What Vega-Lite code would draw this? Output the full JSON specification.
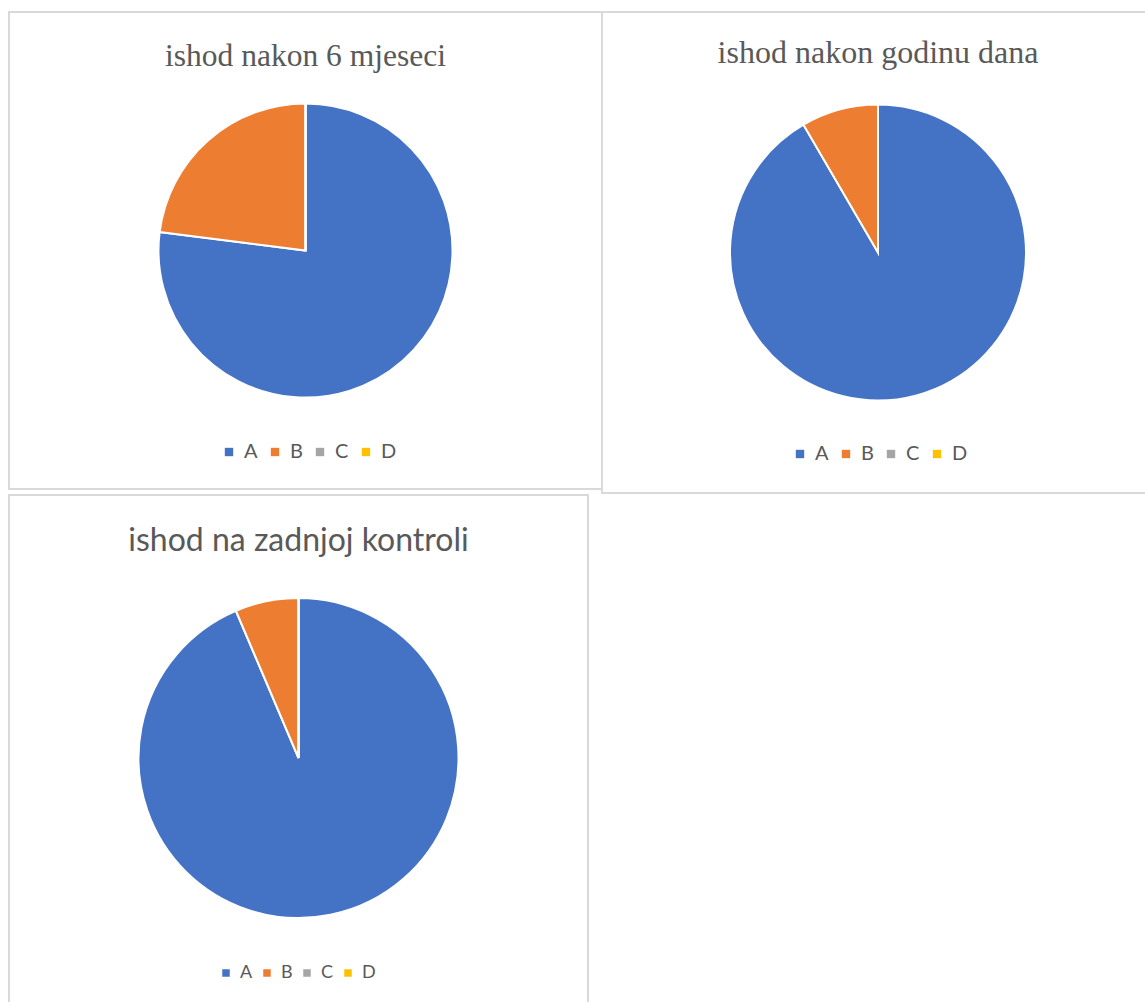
{
  "$schema": "https://vega.github.io/schema/vega-lite/v6.json",
  "background": "white",
  "padding": {"left": 8, "top": 11, "right": 0, "bottom": 0},
  "config": {
    "legend": {
      "orient": "none",
      "direction": "horizontal",
      "title": null,
      "symbolType": "square",
      "symbolSize": 70,
      "symbolStrokeWidth": 0,
      "labelFont": "Lato",
      "labelFontSize": 20,
      "labelColor": "#595959",
      "labelOffset": 5,
      "columnPadding": 7
    }
  },
  "datasets": {
    "p1": [
      {"cat": "A", "value": 77},
      {"cat": "B", "value": 23},
      {"cat": "C", "value": 0},
      {"cat": "D", "value": 0}
    ],
    "p2": [
      {"cat": "A", "value": 91.6},
      {"cat": "B", "value": 8.4},
      {"cat": "C", "value": 0},
      {"cat": "D", "value": 0}
    ],
    "p3": [
      {"cat": "A", "value": 93.6},
      {"cat": "B", "value": 6.4},
      {"cat": "C", "value": 0},
      {"cat": "D", "value": 0}
    ]
  },
  "resolve": {"scale": {"color": "independent"}, "legend": {"color": "independent"}},
  "spacing": 0,
  "vconcat": [
    {
      "spacing": 0,
      "bounds": "flush",
      "resolve": {"scale": {"color": "independent"}, "legend": {"color": "independent"}},
      "hconcat": [
        {
          "width": 593,
          "height": 477,
          "view": {"stroke": "#d9d9d9", "strokeWidth": 2},
          "title": {"text": "ishod nakon 6 mjeseci", "offset": -76, "baseline": "middle", "font": "Liberation Serif", "fontSize": 31.5, "fontWeight": "normal", "color": "#595959", "anchor": "middle"},
          "data": {"name": "p1"},
          "mark": {"type": "arc", "radius": 147, "stroke": "white", "strokeWidth": 2},
          "encoding": {
            "theta": {"field": "value", "type": "quantitative", "stack": true},
            "color": {
              "field": "cat", "type": "nominal",
              "scale": {"domain": ["A", "B", "C", "D"], "range": ["#4472C4", "#ED7D31", "#A5A5A5", "#FFC000"]},
              "legend": {"legendX": 210, "legendY": 430}
            }
          }
        },
        {
          "width": 552,
          "height": 481,
          "view": {"stroke": "#d9d9d9", "strokeWidth": 2},
          "title": {"text": "ishod nakon godinu dana", "offset": -73, "baseline": "middle", "font": "Liberation Serif", "fontSize": 32, "fontWeight": "normal", "color": "#595959", "anchor": "middle"},
          "data": {"name": "p2"},
          "mark": {"type": "arc", "radius": 148, "stroke": "white", "strokeWidth": 2},
          "encoding": {
            "theta": {"field": "value", "type": "quantitative", "stack": true},
            "color": {
              "field": "cat", "type": "nominal",
              "scale": {"domain": ["A", "B", "C", "D"], "range": ["#4472C4", "#ED7D31", "#A5A5A5", "#FFC000"]},
              "legend": {"legendX": 188, "legendY": 432}
            }
          }
        }
      ]
    },
    {
      "width": 579,
      "height": 526,
      "view": {"stroke": "#d9d9d9", "strokeWidth": 2},
      "title": {"text": "ishod na zadnjoj kontroli", "offset": -78, "baseline": "middle", "font": "Lato", "fontSize": 32, "fontWeight": "normal", "color": "#595959", "anchor": "middle"},
      "data": {"name": "p3"},
      "mark": {"type": "arc", "radius": 160, "stroke": "white", "strokeWidth": 2},
      "encoding": {
        "theta": {"field": "value", "type": "quantitative", "stack": true},
        "color": {
          "field": "cat", "type": "nominal",
          "scale": {"domain": ["A", "B", "C", "D"], "range": ["#4472C4", "#ED7D31", "#A5A5A5", "#FFC000"]},
          "legend": {"legendX": 208, "legendY": 469, "labelFontSize": 18, "symbolSize": 56, "columnPadding": 5}
        }
      }
    }
  ]
}
